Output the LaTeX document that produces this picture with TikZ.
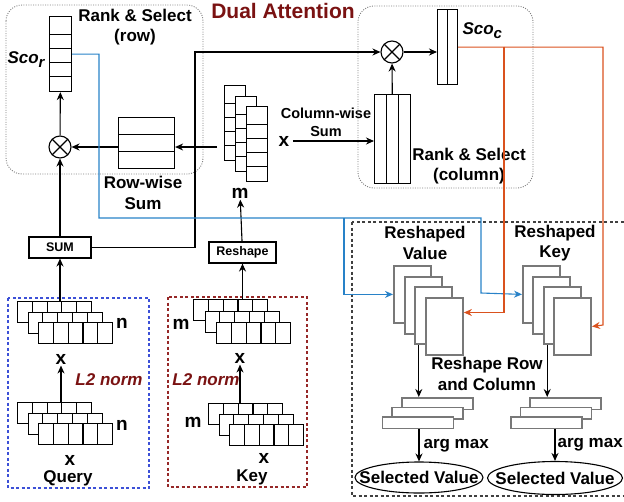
\documentclass[tikz,border=0pt]{standalone}
\usepackage{fontspec}
\setmainfont{Liberation Sans}
\usetikzlibrary{arrows.meta,shapes.geometric,calc}

\definecolor{darkred}{RGB}{122,18,18}
\definecolor{scoblue}{RGB}{40,130,200}
\definecolor{scoorange}{RGB}{218,82,30}
\definecolor{qblue}{RGB}{60,80,215}
\definecolor{kred}{RGB}{150,40,40}
\definecolor{sheetgray}{RGB}{120,120,120}

\newcommand\lblfont{\fontsize{17}{20.5}\selectfont\bfseries}
\newcommand\dimfont{\fontsize{19}{21}\selectfont\bfseries}
\newcommand\boxfont{\fontsize{12.5}{14}\selectfont\bfseries}

\tikzset{
  arr/.style={-{Stealth[length=8pt,width=7pt]}},
  lbl/.style={font=\lblfont, align=center, inner sep=0pt},
  dim/.style={font=\dimfont, inner sep=1pt},
  cellbox/.style={draw, fill=white, inner sep=0pt},
  % vertical lines, #1 columns
  colcells/.style={path picture={\foreach \c in {2,...,#1}
    \draw ($(path picture bounding box.north west)!{(\c-1)/#1}!(path picture bounding box.north east)$)
       -- ($(path picture bounding box.south west)!{(\c-1)/#1}!(path picture bounding box.south east)$);}},
  % horizontal lines, #1 rows
  rowcells/.style={path picture={\foreach \c in {2,...,#1}
    \draw ($(path picture bounding box.north west)!{(\c-1)/#1}!(path picture bounding box.south west)$)
       -- ($(path picture bounding box.north east)!{(\c-1)/#1}!(path picture bounding box.south east)$);}},
  vsheet/.style={cellbox, anchor=north west, minimum width=21pt, minimum height=75pt,
    path picture={\foreach \d in {18,32,46,60}
      \draw ([yshift=-\d pt]path picture bounding box.north west) -- ([yshift=-\d pt]path picture bounding box.north east);}},
  hstrip/.style={cellbox, anchor=north west, minimum width=74pt, minimum height=21pt, colcells=5},
  gsheet/.style={draw=sheetgray, line width=1.8pt, fill=white, anchor=north west,
    minimum width=37pt, minimum height=57pt, inner sep=0pt},
  gbar/.style={draw=sheetgray, line width=1.8pt, fill=white, anchor=north west,
    minimum width=71pt, minimum height=11.5pt, inner sep=0pt},
  otimes/.style={circle, draw, fill=white, minimum size=22pt, inner sep=0pt,
    path picture={\draw (path picture bounding box.north west) -- (path picture bounding box.south east)
      (path picture bounding box.north east) -- (path picture bounding box.south west);}},
  dotbox/.style={draw=gray, line width=0.9pt, dash pattern=on 1pt off 1.4pt, rounded corners=16pt},
  selbox/.style={draw, ellipse, inner sep=0pt},
}

\begin{document}
\begin{tikzpicture}[x=1pt, y=-1pt, line width=1.1pt]
  \useasboundingbox (0,0) rectangle (624,501);

  % Title
  \node[font=\fontsize{21}{24}\selectfont\bfseries, text=darkred] (title) at (283,11) {Dual Attention};

  % Rank & Select (row)
  \draw[dotbox] (6,5) rectangle (203,174);
  \node[lbl] (rsrow) at (135,27) {Rank \& Select\\(row)};
  \node[vsheet, minimum width=22pt] (scor) at (49,16) {};
  \node[lbl, font=\lblfont\itshape, anchor=base west] (scorlbl) at (7,63)
    {Sco\raisebox{-4pt}{\fontsize{15}{15}\selectfont r}};
  \node[otimes] (otr) at (60,147) {};
  \node[cellbox, rowcells=3, anchor=north west, minimum width=56pt, minimum height=51pt] (rowsum) at (118,117) {};
  \node[lbl] (rowlbl) at (143,193) {Row-wise\\Sum};
  \node[cellbox, font=\boxfont, minimum width=62pt, minimum height=21pt] (sum) at (60,247.5) {SUM};

  % Key after reshape, m sheets
  \foreach \k in {0,1,2}
    \node[vsheet] (st\k) at ({224+11*\k},{85+10.5*\k}) {};
  \node[dim] (mmid) at (240,193) {m};
  \node[dim] (xmid) at (284,141) {x};
  \node[cellbox, font=\boxfont, minimum width=67pt, minimum height=21pt] (reshape) at (242.5,252.5) {Reshape};
  \node[lbl, font=\fontsize{14.5}{18}\selectfont\bfseries] (collbl) at (326,122) {Column-wise\\Sum};

  % Rank & Select (column)
  \draw[dotbox] (358,6) rectangle (533,188);
  \node[cellbox, colcells=3, anchor=north west, minimum width=36pt, minimum height=89pt] (colsum) at (374,94) {};
  \node[otimes] (otc) at (392,52) {};
  \node[cellbox, colcells=2, anchor=north west, minimum width=20pt, minimum height=75pt] (scoc) at (437,9) {};
  \node[lbl, font=\lblfont\itshape, anchor=base west] (scoclbl) at (462,34)
    {Sco\raisebox{-4pt}{\fontsize{15}{15}\selectfont c}};
  \node[lbl] (rscol) at (469,166) {Rank \& Select\\(column)};

  % Query
  \draw[qblue, dash pattern=on 3pt off 2.5pt] (8,298) rectangle (149,488);
  \foreach \k in {0,1,2} {
    \node[hstrip] (qa\k) at ({17+10.5*\k},{301+10.5*\k}) {};
    \node[hstrip] (qb\k) at ({17+10.5*\k},{402+10.5*\k}) {};
  }
  \node[dim] (nq1) at (122,323) {n};
  \node[dim] (nq2) at (122,425) {n};
  \node[dim] (xq1) at (61,359) {x};
  \node[dim] (xq2) at (70,460) {x};
  \node[lbl] (query) at (68,478) {Query};
  \node[lbl, font=\lblfont\itshape, text=darkred] (l2q) at (109,380) {L2 norm};

  % Key
  \draw[kred, dash pattern=on 3pt off 2.5pt] (168,297) rectangle (307,487);
  \foreach \k in {0,1,2} {
    \node[hstrip] (ka\k) at ({193+11.5*\k},{299+11.5*\k}) {};
    \node[hstrip] (kb\k) at ({208+10.5*\k},{403+10.5*\k}) {};
  }
  \node[dim] (mk1) at (181,324) {m};
  \node[dim] (mk2) at (193,422) {m};
  \node[dim] (xk1) at (240,358) {x};
  \node[dim] (xk2) at (264,458) {x};
  \node[lbl] (key) at (252,477) {Key};
  \node[lbl, font=\lblfont\itshape, text=darkred] (l2k) at (206,380) {L2 norm};

  % Connectors, left part
  \draw[arr] (sum |- qa0.north) -- (sum);
  \draw[arr] (xq1 |- qb0.north) -- (xq1);
  \draw[arr] (xk1 |- kb0.north) -- (xk1);
  \draw[arr] (reshape |- ka0.north) -- (reshape);
  \draw[arr] (reshape) -- (mmid);
  \draw[arr] (sum) -- (otr);
  \draw[arr] (otr) -- (scor);
  \draw[arr] (rowsum.west |- otr) -- (otr);
  \draw[arr] ([xshift=-7pt]st0.west |- otr) -- (rowsum.east |- otr);
  \draw[arr] (sum.east) -| (195,52) -- (otc);
  \draw[arr] (colsum) -- (otc);
  \draw[arr] (otc) -- (otc -| scoc.west);
  \draw[arr] ([xshift=2pt]xmid.east) -- (xmid -| colsum.west);

  % Reshape row and column
  \draw[darkgray, dash pattern=on 3pt off 2.5pt] (352,222) rectangle (640,496);
  \node[lbl] (rvlbl) at (425,243) {Reshaped\\Value};
  \node[lbl] (rklbl) at (555,243) {Reshaped\\Key};
  \foreach \k in {1,...,4} {
    \node[gsheet] (rv\k) at ({393+10.7*(\k-1)},{265+10.7*(\k-1)}) {};
    \node[gsheet] (rk\k) at ({522+10.4*(\k-1)},{265+10.7*(\k-1)}) {};
  }
  \node[lbl] (rrc) at (487,374) {Reshape Row\\and Column};
  \foreach \k in {1,2,3} {
    \node[gbar] (vb\k) at ({401-9.7*(\k-1)},{397+9.5*(\k-1)}) {};
    \node[gbar] (kb\k) at ({529-9.5*(\k-1)},{397+9.5*(\k-1)}) {};
  }
  \node[selbox, minimum width=128pt, minimum height=31pt, label={[lbl]center:Selected Value}] (selv) at (419,477.5) {};
  \node[selbox, minimum width=135pt, minimum height=33pt, label={[lbl]center:Selected Value}] (selk) at (555,478) {};

  \draw[arr] ([xshift=-15pt]rv3.south) -- ([xshift=-15pt]rv3.south |- vb1.north);
  \draw[arr] ([xshift=-15pt]rk3.south) -- ([xshift=-15pt]rk3.south |- kb1.north);
  \draw[arr] (selv.north |- vb3.south) -- node[lbl, right=4pt] {arg max} (selv.north);
  \draw[arr] (selk.north |- kb3.south) -- node[lbl, right=2pt] {arg max} (selk.north);

  % Scores fed to the reshaped value and key
  \draw[scoblue, arr] (scor.east) -| (99,218) -| (481,293) -- (rk1.west);
  \draw[scoblue, arr] (344,218) |- (rv1.west);
  \draw[scoorange, arr] (scoc.east) -| (603,325) -- (rk4.east);
  \draw[scoorange, arr] (504,46.5) |- ([yshift=14pt]rv4.east);

\end{tikzpicture}
\end{document}
